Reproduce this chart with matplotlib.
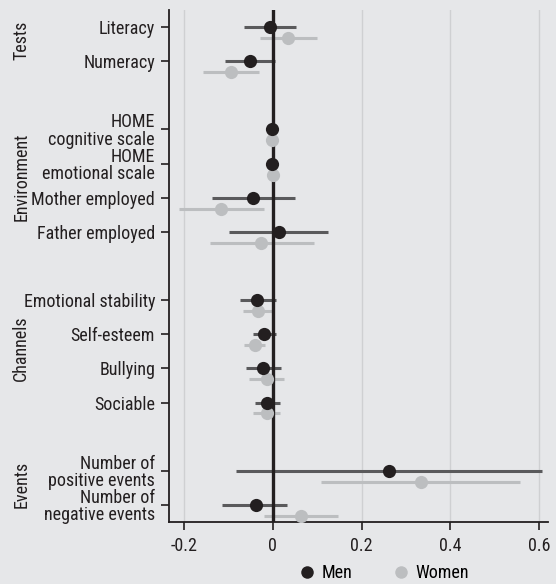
import numpy as np
import matplotlib
matplotlib.use('Agg')
import matplotlib.pyplot as plt
from matplotlib import font_manager
from matplotlib.lines import Line2D
from matplotlib.transforms import blended_transform_factory

labels = ['Literacy', 'Numeracy',
          'HOME\ncognitive scale', 'HOME\nemotional scale', 'Mother employed', 'Father employed',
          'Emotional stability', 'Self-esteem', 'Bullying', 'Sociable',
          'Number of\npositive events', 'Number of\nnegative events']
rows = [0, 1, 3, 4, 5, 6, 8, 9, 10, 11, 13, 14]

men = [-0.007, -0.052, -0.002, -0.001, -0.044, 0.013, -0.035, -0.020, -0.022, -0.013, 0.261, -0.039]
men_lo = [-0.066, -0.108, -0.006, -0.005, -0.138, -0.098, -0.074, -0.044, -0.061, -0.041, -0.082, -0.114]
men_hi = [0.053, 0.004, 0.002, 0.003, 0.050, 0.125, 0.006, 0.008, 0.019, 0.016, 0.607, 0.033]

women = [0.035, -0.095, -0.003, 0.001, -0.117, -0.026, -0.033, -0.041, -0.014, -0.014, 0.333, 0.063]
women_lo = [-0.029, -0.157, -0.007, -0.003, -0.212, -0.142, -0.068, -0.065, -0.053, -0.044, 0.109, -0.020]
women_hi = [0.100, -0.032, 0.001, 0.005, -0.020, 0.092, 0.001, -0.017, 0.026, 0.016, 0.557, 0.146]

groups = ['Tests', 'Environment', 'Channels', 'Events']
group_rows = [(0, 1), (3, 6), (8, 11), (13, 14)]

xticks = [-0.2, 0, 0.2, 0.4, 0.6]
xticklabels = ['-0.2', '0', '0.2', '0.4', '0.6']

bg = '#e6e7e9'
men_c = '#231f20'
men_ci = '#5a5a5c'
women_c = '#bcbec0'
women_ci = '#bcbec0'

# pick a narrow face if one is around
names = {(f.name, f.stretch) for f in font_manager.fontManager.ttflist}
fam_names = {n for n, _ in names}
stretch = 'normal'
if 'Liberation Sans Narrow' in fam_names:
    family = 'Liberation Sans Narrow'
elif 'Roboto Condensed' in fam_names:
    family = 'Roboto Condensed'
elif any(n == 'DejaVu Sans' and s in ('condensed', 'semi-condensed') for n, s in names):
    family = 'DejaVu Sans'
    stretch = 'condensed'
else:
    family = 'Liberation Sans'

plt.rcParams['font.family'] = [family, 'DejaVu Sans']
plt.rcParams['font.stretch'] = stretch
plt.rcParams['font.size'] = 13

fig = plt.figure(figsize=(5.56, 5.84), dpi=100, facecolor=bg)
ax = fig.add_axes([169 / 556, 1 - 522 / 584, 379 / 556, 512 / 584])
ax.set_facecolor(bg)

y = np.array(rows, dtype=float)
off = 0.32

for xv in [-0.2, 0.2, 0.4, 0.6]:
    ax.axvline(xv, color='#cfd0d2', lw=1, zorder=1)
ax.axvline(0, color=men_c, lw=2.4, zorder=3)

ax.hlines(y, men_lo, men_hi, color=men_ci, lw=2.2, zorder=2)
ax.hlines(y + off, women_lo, women_hi, color=women_ci, lw=2.2, zorder=2)
ax.plot(women, y + off, 'o', color=women_c, ms=9.5, mec='none', zorder=4)
ax.plot(men, y, 'o', color=men_c, ms=9.5, mec='none', zorder=5)

ax.set_xlim(-0.234, 0.62)
ax.set_ylim(14.5, -0.5)
ax.set_xticks(xticks)
ax.set_xticklabels(xticklabels)
ax.set_yticks(rows)
ax.set_yticklabels(labels, linespacing=0.95)

for s in ['top', 'right']:
    ax.spines[s].set_visible(False)
for s in ['left', 'bottom']:
    ax.spines[s].set_linewidth(1.3)
    ax.spines[s].set_color('#231f20')
ax.tick_params(axis='both', direction='out', length=6, width=1.2, color='#231f20',
               labelcolor='#231f20', labelsize=13)
ax.tick_params(axis='y', pad=4)
ax.tick_params(axis='x', pad=5)

tr = blended_transform_factory(ax.transAxes, ax.transData)
for g, (a, b) in zip(groups, group_rows):
    ax.text(-0.39, (a + b) / 2 - 0.1, g, rotation=90, ha='center', va='center',
            transform=tr, color='#231f20', fontsize=13)

handles = [Line2D([], [], ls='none', marker='o', color=men_c, ms=9, mec='none'),
           Line2D([], [], ls='none', marker='o', color=women_c, ms=9, mec='none')]
fig.legend(handles, ['Men', 'Women'], loc='center', bbox_to_anchor=(0.69, 0.019), ncol=2,
           frameon=False, handletextpad=0.3, columnspacing=2.2, handlelength=1.0, fontsize=13)

fig.savefig('out.png', dpi=100, facecolor=bg)
